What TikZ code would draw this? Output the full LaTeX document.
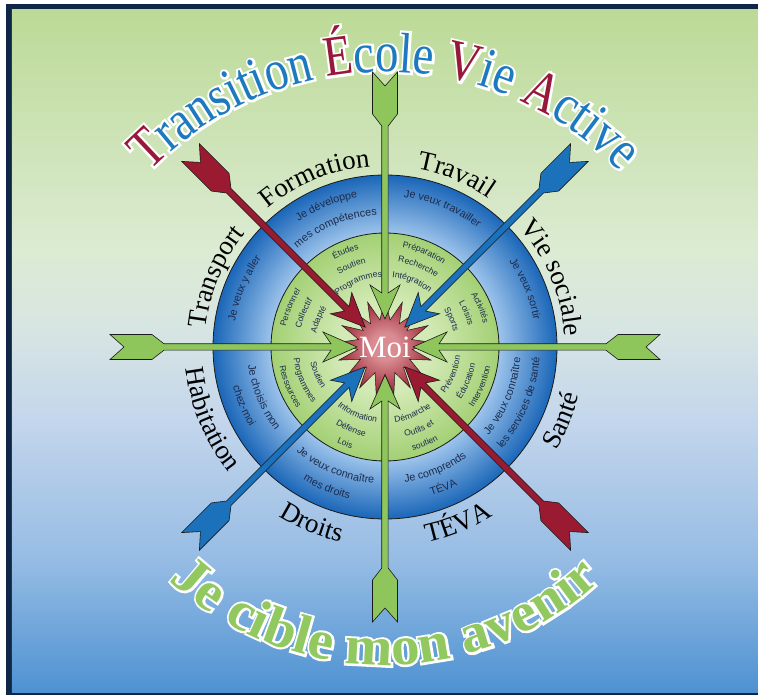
\documentclass[tikz,border=0pt]{standalone}
\usepackage{fontspec}
\usepackage{xcolor}
\usepackage{tikz}
\setmainfont{Liberation Serif}
\newfontfamily\titrefont[FakeStretch=0.82]{Liberation Serif}
\newfontfamily\titrehalo[FakeStretch=0.82, FakeBold=8]{Liberation Serif}
\newfontfamily\ciblefont[FakeStretch=1.04]{Liberation Serif}
\newfontfamily\ciblehalo[FakeStretch=1.04, FakeBold=8]{Liberation Serif}
\newfontfamily\anneaufont{Liberation Sans}
\usetikzlibrary{decorations.text, shapes.geometric}

\definecolor{cadre}{HTML}{0F2647}
\definecolor{fondA}{HTML}{4E92D2}
\definecolor{fondB}{HTML}{96BCE4}
\definecolor{fondC}{HTML}{C4D6EC}
\definecolor{fondD}{HTML}{D8E6E2}
\definecolor{fondE}{HTML}{DCEBD3}
\definecolor{fondF}{HTML}{BCDA96}
\definecolor{bleuclair}{HTML}{9CC3EB}
\definecolor{bleufonce}{HTML}{1A66B8}
\definecolor{vertclair}{HTML}{D3EAB6}
\definecolor{vertanneau}{HTML}{A3D074}
\definecolor{rougeclair}{HTML}{D98D92}
\definecolor{rougefonce}{HTML}{9C2535}
\definecolor{flecherouge}{HTML}{9A1A31}
\definecolor{flechebleue}{HTML}{1B72BB}
\definecolor{flecheverte}{HTML}{8EC65C}
\definecolor{titrebleu}{HTML}{1D79C0}
\definecolor{titrerouge}{HTML}{98183A}
\definecolor{encre}{HTML}{1C2B4C}
\definecolor{cible}{HTML}{91C85F}
\definecolor{contour}{HTML}{1A1A1A}

\pgfdeclareverticalshading{fond}{100bp}{color(0bp)=(fondA); color(25bp)=(fondA);
  color(34.7bp)=(fondB); color(45bp)=(fondC); color(52bp)=(fondD);
  color(57.4bp)=(fondE); color(75bp)=(fondF); color(100bp)=(fondF)}
\pgfdeclareradialshading{anneau}{\pgfpoint{0bp}{0bp}}{color(0bp)=(bleuclair);
  color(16.6bp)=(bleuclair); color(25bp)=(bleufonce); color(50bp)=(bleufonce)}
\pgfdeclareradialshading{centre}{\pgfpoint{0bp}{0bp}}{color(0bp)=(vertclair);
  color(10bp)=(vertclair); color(25bp)=(vertanneau); color(50bp)=(vertanneau)}
\pgfdeclareradialshading{eclat}{\pgfpoint{0bp}{0bp}}{color(0bp)=(rougeclair);
  color(7bp)=(rougeclair); color(25bp)=(rougefonce); color(50bp)=(rougefonce)}

\newcommand\fTR{\titrefont\fontsize{57}{57}\selectfont\color{titrerouge}}
\newcommand\fTB{\titrefont\fontsize{57}{57}\selectfont\color{titrebleu}}
\newcommand\fTW{\titrehalo\fontsize{57}{57}\selectfont\color{white}}
\newcommand\fCG{\ciblefont\bfseries\fontsize{55}{55}\selectfont\color{cible}}
\newcommand\fCW{\ciblehalo\bfseries\fontsize{55}{55}\selectfont\color{white}}
\newcommand\fLab{\rmfamily\fontsize{27}{27}\selectfont\color{black}}
\newcommand\fA{\anneaufont\fontsize{10.8}{10.8}\selectfont\color{encre}}
\newcommand\fV{\anneaufont\fontsize{8.6}{8.6}\selectfont\color{encre}}

\newcommand\courbeHaut[4]{\path[decorate, decoration={text along path,
  text align=center, text={|#3|#4}}] ({#1+80}:#2) arc[start angle=#1+80,
  end angle=#1-80, radius=#2];}
\newcommand\courbeBas[4]{\path[decorate, decoration={text along path,
  text align=center, text={|#3|#4}}] ({#1-80}:#2) arc[start angle=#1-80,
  end angle=#1+80, radius=#2];}

\begin{document}
\begin{tikzpicture}[
    x=1pt, y=1pt,
    fleche/.pic={
      \path[pic actions] (28,0) -- (62,15) -- (54,3.2) -- (221,3.2) -- (233,12.5)
        -- (275,12.5) -- (261,0) -- (275,-12.5) -- (233,-12.5) -- (221,-3.2)
        -- (54,-3.2) -- (62,-15) -- cycle;
    },
    verte/.style={fill=flecheverte, draw=contour, line width=0.6pt},
    rouge/.style={fill=flecherouge, draw=contour, line width=0.6pt},
    bleue/.style={fill=flechebleue, draw=contour, line width=0.6pt},
    eclatmoi/.style={star, star points=17, star point ratio=1.75,
      minimum size=96pt, inner sep=0pt, draw=contour, line width=0.5pt,
      shading=eclat},
    moi/.style={text=white, font=\rmfamily\fontsize{31}{31}\selectfont}
  ]
  \useasboundingbox (-385,-348) rectangle (373,347);
  \fill[white] (-385,-348) rectangle (373,347);
  \fill[cadre] (-379,343) rectangle (373,-348);
  \shade[shading=fond] (-373,337) rectangle (373,-345);

  \path[shift={(0,-53)}, decorate, decoration={text along path,
    text align=center, text={|\fTW|Transition École Vie Active}}]
    (170:328pt) arc[start angle=170, end angle=10, radius=328pt];
  \path[shift={(0,-53)}, decorate, decoration={text along path, text align=center,
    text={|\fTR|T|\fTB|ransition |\fTR|É|\fTB|cole |\fTR|V|\fTB|ie |\fTR|A|\fTB|ctive}}]
    (170:328pt) arc[start angle=170, end angle=10, radius=328pt];

  \path[draw=contour, line width=0.8pt, shading=anneau] (0,0) circle[radius=172pt];
  \path[draw=contour, line width=0.8pt, shading=centre] (0,0) circle[radius=114pt];

  \courbeHaut{112.5}{181pt}{\fLab}{Formation}
  \courbeHaut{67.5}{181pt}{\fLab}{Travail}
  \courbeHaut{22.5}{180pt}{\fLab}{Vie sociale}
  \courbeHaut{157.5}{180pt}{\fLab}{Transport}
  \courbeBas{202.5}{200pt}{\fLab}{Habitation}
  \courbeBas{247.5}{200pt}{\fLab}{Droits}
  \courbeBas{292.5}{200pt}{\fLab}{TÉVA}
  \courbeBas{337.5}{200pt}{\fLab}{Santé}

  \courbeHaut{112.5}{152pt}{\fA}{Je développe}
  \courbeHaut{112.5}{132pt}{\fA}{mes compétences}
  \courbeHaut{67.5}{151pt}{\fA}{Je veux travailler}
  \courbeHaut{22.5}{151pt}{\fA}{Je veux sortir}
  \courbeHaut{157.5}{152pt}{\fA}{Je veux y aller}
  \courbeBas{202.5}{138pt}{\fA}{Je choisis mon}
  \courbeBas{202.5}{157pt}{\fA}{chez-moi}
  \courbeBas{247.5}{137pt}{\fA}{Je veux connaître}
  \courbeBas{247.5}{156pt}{\fA}{mes droits}
  \courbeBas{292.5}{137pt}{\fA}{Je comprends}
  \courbeBas{292.5}{156pt}{\fA}{TÉVA}
  \courbeBas{337.5}{136pt}{\fA}{Je veux connaître}
  \courbeBas{337.5}{155pt}{\fA}{les services de santé}

  \courbeHaut{112.5}{101pt}{\fV}{Études}
  \courbeHaut{112.5}{86pt}{\fV}{Soutien}
  \courbeHaut{112.5}{70pt}{\fV}{Programmes}
  \courbeHaut{67.5}{101pt}{\fV}{Préparation}
  \courbeHaut{67.5}{86pt}{\fV}{Recherche}
  \courbeHaut{67.5}{70pt}{\fV}{Intégration}
  \courbeHaut{22.5}{101pt}{\fV}{Activités}
  \courbeHaut{22.5}{86pt}{\fV}{Loisirs}
  \courbeHaut{22.5}{70pt}{\fV}{Sports}
  \courbeHaut{157.5}{101pt}{\fV}{Personnel}
  \courbeHaut{157.5}{86pt}{\fV}{Collectif}
  \courbeHaut{157.5}{70pt}{\fV}{Adapté}
  \courbeBas{202.5}{76pt}{\fV}{Soutien}
  \courbeBas{202.5}{92pt}{\fV}{Programmes}
  \courbeBas{202.5}{107pt}{\fV}{Ressources}
  \courbeBas{247.5}{76pt}{\fV}{Information}
  \courbeBas{247.5}{92pt}{\fV}{Défense}
  \courbeBas{247.5}{107pt}{\fV}{Lois}
  \courbeBas{292.5}{76pt}{\fV}{Démarche}
  \courbeBas{292.5}{92pt}{\fV}{Outils et}
  \courbeBas{292.5}{107pt}{\fV}{soutien}
  \courbeBas{337.5}{76pt}{\fV}{Prévention}
  \courbeBas{337.5}{92pt}{\fV}{Éducation}
  \courbeBas{337.5}{107pt}{\fV}{Intervention}

  \node[eclatmoi] (etoile) at (0,0) {};

  \pic[verte, rotate=90] {fleche};
  \pic[verte, rotate=0] {fleche};
  \pic[verte, rotate=180] {fleche};
  \pic[verte, rotate=270] {fleche};
  \pic[rouge, rotate=135] {fleche};
  \pic[rouge, rotate=315] {fleche};
  \pic[bleue, rotate=45] {fleche};
  \pic[bleue, rotate=225] {fleche};

  \node[moi] (moi) at (etoile.center) {Moi};

  \path[decorate, decoration={text along path, text align=center,
    text={|\fCW|Je cible mon avenir}}]
    (190:318pt) arc[start angle=190, end angle=350, radius=318pt];
  \path[decorate, decoration={text along path, text align=center,
    text={|\fCG|Je cible mon avenir}}]
    (190:318pt) arc[start angle=190, end angle=350, radius=318pt];
\end{tikzpicture}
\end{document}
